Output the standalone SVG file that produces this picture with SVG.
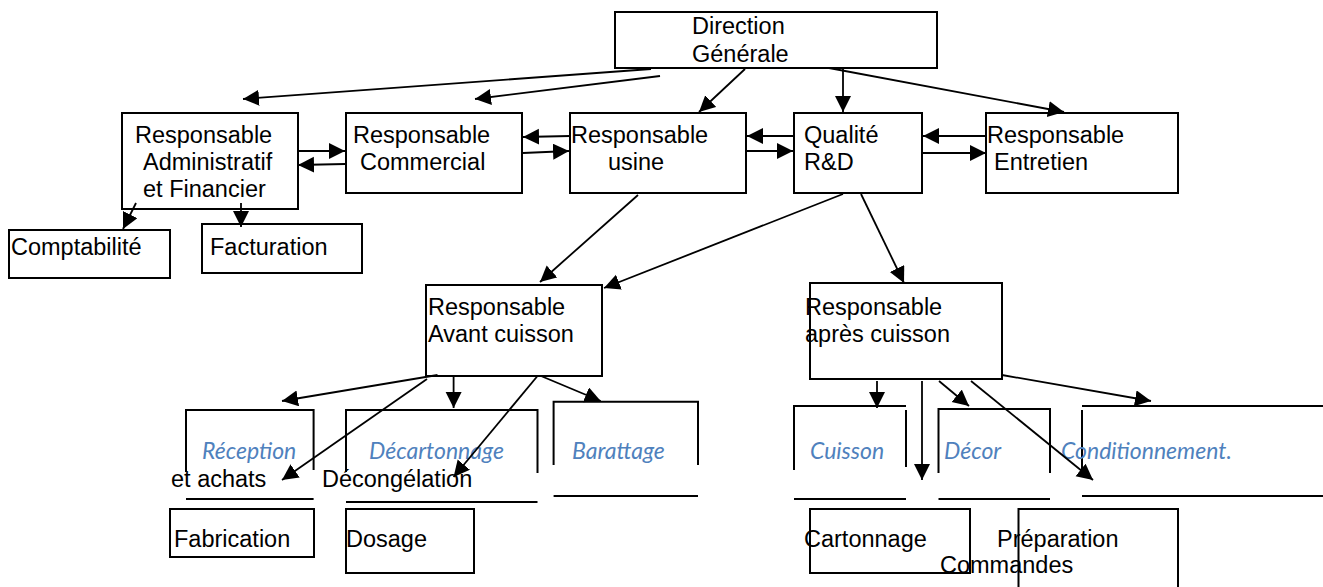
<svg xmlns="http://www.w3.org/2000/svg" width="1323" height="587" viewBox="0 0 1323 587">
<defs>
<style>
.box{fill:#fff;stroke:#000;stroke-width:2}
.ln{fill:none;stroke:#000;stroke-width:2}
.c{fill:none;stroke:#000;stroke-width:1.8;marker-end:url(#ah)}
text{font-family:"Liberation Sans",Arial,sans-serif;font-size:23.5px;fill:#000}
text.b{font-family:Lato,"Open Sans",sans-serif;font-style:italic;font-size:23px;fill:#4f81bd}
</style>
<marker id="ah" markerUnits="userSpaceOnUse" markerWidth="20" markerHeight="20" refX="16" refY="8" orient="auto">
<path d="M0,0 L16,8 L0,16 z" fill="#000"/>
</marker>
</defs>
<rect width="1323" height="587" fill="#fff"/>

<g id="direction"><rect class="box" x="615" y="12" width="322" height="56"/><text x="692" y="34">Direction</text><text x="692" y="62">Générale</text></g>
<g id="admin"><rect class="box" x="122" y="113" width="176" height="96"/><text x="135" y="143">Responsable</text><text x="143" y="170">Administratif</text><text x="143" y="197">et Financier</text></g>
<g id="commercial"><rect class="box" x="346" y="113" width="176" height="80"/><text x="353" y="143">Responsable</text><text x="360" y="170">Commercial</text></g>
<g id="usine"><rect class="box" x="570" y="113" width="176" height="80"/><text x="571" y="143">Responsable</text><text x="608" y="170">usine</text></g>
<g id="qualite"><rect class="box" x="794" y="113" width="128" height="80"/><text x="804" y="143">Qualité</text><text x="804" y="170">R&amp;D</text></g>
<g id="entretien"><rect class="box" x="986" y="113" width="192" height="80"/><text x="987" y="143">Responsable</text><text x="994" y="170">Entretien</text></g>
<g id="comptabilite"><rect class="box" x="9" y="230" width="161" height="48"/><text x="11" y="255">Comptabilité</text></g>
<g id="facturation"><rect class="box" x="202" y="224" width="160" height="49"/><text x="210" y="255">Facturation</text></g>
<g id="avant"><rect class="box" x="426" y="285" width="176" height="91"/><text x="428" y="315">Responsable</text><text x="428" y="342">Avant cuisson</text></g>
<g id="apres"><rect class="box" x="810" y="283" width="192" height="96"/><text x="805" y="315">Responsable</text><text x="805" y="342">après cuisson</text></g>

<g id="reception"><path class="ln" d="M186,472 V410 H313.6 V470 M186,499 H313.6"/><text class="b" x="202" y="459">Réception</text><text x="171" y="487">et achats</text></g>
<g id="decartonnage"><path class="ln" d="M346,472 V410 H537.5 V473 M346,502 H537.5"/><text class="b" x="369" y="459">Décartonnage</text><text x="322" y="487">Décongélation</text></g>
<g id="barattage"><path class="ln" d="M553.6,465 V401.7 H698 V465 M553.6,496 H698"/><text class="b" x="572" y="459">Barattage</text></g>
<g id="cuisson"><path class="ln" d="M794,470 V406 H906 M906,410 V467 M794,499 H906"/><text class="b" x="810" y="459">Cuisson</text></g>
<g id="decor"><path class="ln" d="M938.5,473 V409 H1050 V473 M938.5,499 H1050"/><text class="b" x="944" y="459">Décor</text></g>
<g id="conditionnement"><path class="ln" d="M1082,406 H1323 M1082,410 V472 M1082,496 H1323"/><text class="b" x="1061" y="459">Conditionnement.</text></g>

<g id="fabrication"><rect class="box" x="170" y="509" width="144" height="48"/><text x="174" y="547">Fabrication</text></g>
<g id="dosage"><rect class="box" x="346" y="509" width="128" height="64"/><text x="346" y="547">Dosage</text></g>
<g id="cartonnage"><rect class="box" x="810" y="509" width="160" height="64"/><text x="804" y="547">Cartonnage</text></g>
<g id="preparation"><rect class="box" x="1018.5" y="509" width="159.5" height="90"/><text x="997" y="547">Préparation</text><text x="940" y="573">Commandes</text></g>

<g id="connectors">
<line class="c" x1="651" y1="69" x2="243" y2="99"/>
<line class="c" x1="660" y1="76" x2="475" y2="99"/>
<line class="c" x1="745" y1="69" x2="699" y2="112"/>
<line class="c" x1="843" y1="69" x2="843" y2="112"/>
<line class="c" x1="829" y1="68" x2="1064" y2="112"/>
<line class="c" x1="298" y1="151" x2="345" y2="151"/>
<line class="c" x1="345" y1="164" x2="298" y2="165"/>
<line class="c" x1="570" y1="136" x2="523" y2="137"/>
<line class="c" x1="523" y1="153" x2="569" y2="151"/>
<line class="c" x1="794" y1="136" x2="747" y2="136"/>
<line class="c" x1="747" y1="151" x2="793" y2="151"/>
<line class="c" x1="986" y1="136" x2="923" y2="136"/>
<line class="c" x1="923" y1="153" x2="986" y2="153"/>
<line class="c" x1="136" y1="203" x2="123" y2="229"/>
<line class="c" x1="241" y1="203" x2="241" y2="227"/>
<line class="c" x1="638" y1="195" x2="540" y2="282"/>
<line class="c" x1="843" y1="194" x2="604" y2="288"/>
<line class="c" x1="861" y1="194" x2="904" y2="283"/>
<line class="c" x1="437.5" y1="375" x2="282" y2="401"/>
<line class="c" x1="427" y1="379" x2="282" y2="480"/>
<line class="c" x1="453.6" y1="377" x2="453.6" y2="408"/>
<line class="c" x1="537.5" y1="376" x2="453.6" y2="477"/>
<line class="c" x1="541" y1="376" x2="600.7" y2="401"/>
<line class="c" x1="877" y1="381" x2="877" y2="408"/>
<line class="c" x1="922" y1="381" x2="922" y2="480"/>
<line class="c" x1="939" y1="381" x2="969" y2="406"/>
<line class="c" x1="971" y1="381" x2="1093" y2="480"/>
<line class="c" x1="1002" y1="375" x2="1151" y2="401"/>
</g>
</svg>
